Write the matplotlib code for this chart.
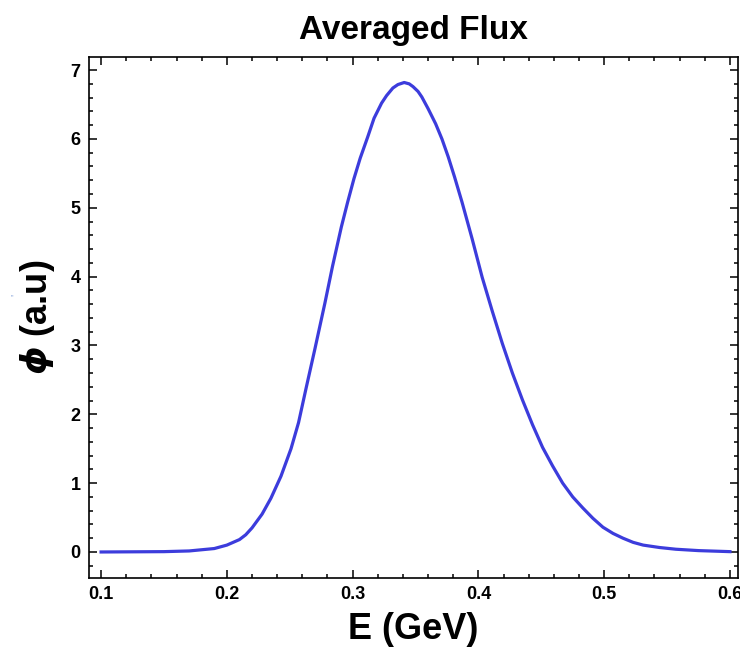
import numpy as np
import matplotlib
matplotlib.use("Agg")
import matplotlib.pyplot as plt
from matplotlib.ticker import MultipleLocator

# averaged flux
energy = [0.10, 0.15, 0.17, 0.19, 0.20, 0.21, 0.215, 0.22, 0.228, 0.235, 0.243, 0.251,
          0.257, 0.263, 0.270, 0.278, 0.284, 0.291, 0.296, 0.301, 0.306, 0.312, 0.317,
          0.323, 0.327, 0.332, 0.336, 0.341, 0.345, 0.348, 0.352, 0.355, 0.360, 0.366,
          0.371, 0.376, 0.381, 0.387, 0.395, 0.403, 0.411, 0.419, 0.427, 0.435, 0.443,
          0.451, 0.459, 0.467, 0.475, 0.483, 0.491, 0.499, 0.507, 0.515, 0.523, 0.531,
          0.544, 0.557, 0.575, 0.60]
flux = [0.0, 0.005, 0.015, 0.05, 0.10, 0.18, 0.25, 0.35, 0.55, 0.78, 1.10, 1.50,
        1.88, 2.38, 2.95, 3.62, 4.15, 4.72, 5.08, 5.42, 5.72, 6.03, 6.30,
        6.52, 6.63, 6.74, 6.79, 6.82, 6.80, 6.76, 6.69, 6.61, 6.44, 6.22,
        6.00, 5.74, 5.45, 5.08, 4.55, 3.99, 3.50, 3.03, 2.60, 2.21, 1.85,
        1.52, 1.25, 1.00, 0.80, 0.64, 0.49, 0.36, 0.27, 0.20, 0.14, 0.10,
        0.065, 0.04, 0.02, 0.005]

plt.rcParams["font.family"] = ["Liberation Sans", "DejaVu Sans"]
plt.rcParams["mathtext.fontset"] = "custom"
plt.rcParams["mathtext.it"] = "DejaVu Sans:bold:italic"

fig = plt.figure(figsize=(7.4, 6.54), dpi=100)
ax = fig.add_axes([0.1203, 0.1162, 0.877, 0.7966])

ax.plot(energy, flux, color="#3c3cdc", lw=2.3, solid_joinstyle="round")

ax.set_xlim(0.0904, 0.6064)
ax.set_ylim(-0.378, 7.19)
ax.xaxis.set_major_locator(MultipleLocator(0.1))
ax.xaxis.set_minor_locator(MultipleLocator(0.02))
ax.yaxis.set_major_locator(MultipleLocator(1))
ax.yaxis.set_minor_locator(MultipleLocator(0.2))
ax.set_xticks([0.1, 0.2, 0.3, 0.4, 0.5, 0.6])
ax.set_xticklabels(["0.1", "0.2", "0.3", "0.4", "0.5", "0.6"])

ax.tick_params(which="both", direction="in", top=True, right=True, width=1.1,
               labelsize=13, pad=6)
ax.tick_params(which="major", length=6)
ax.tick_params(which="minor", length=3)
for lab in ax.get_xticklabels() + ax.get_yticklabels():
    lab.set_fontweight("bold")
for sp in ax.spines.values():
    sp.set_linewidth(1.2)

ax.set_title("Averaged Flux", fontsize=24, fontweight="bold", pad=13)
ax.set_xlabel("E (GeV)", fontsize=26, fontweight="bold", labelpad=6)
ax.set_ylabel(r"$\mathit{\phi}$ (a.u)", fontsize=26, fontweight="bold", labelpad=10)

fig.text(0.016, 0.545, '"', fontsize=5, color="#6a8fd0", ha="center", va="center")

fig.savefig("out.png", dpi=100)
